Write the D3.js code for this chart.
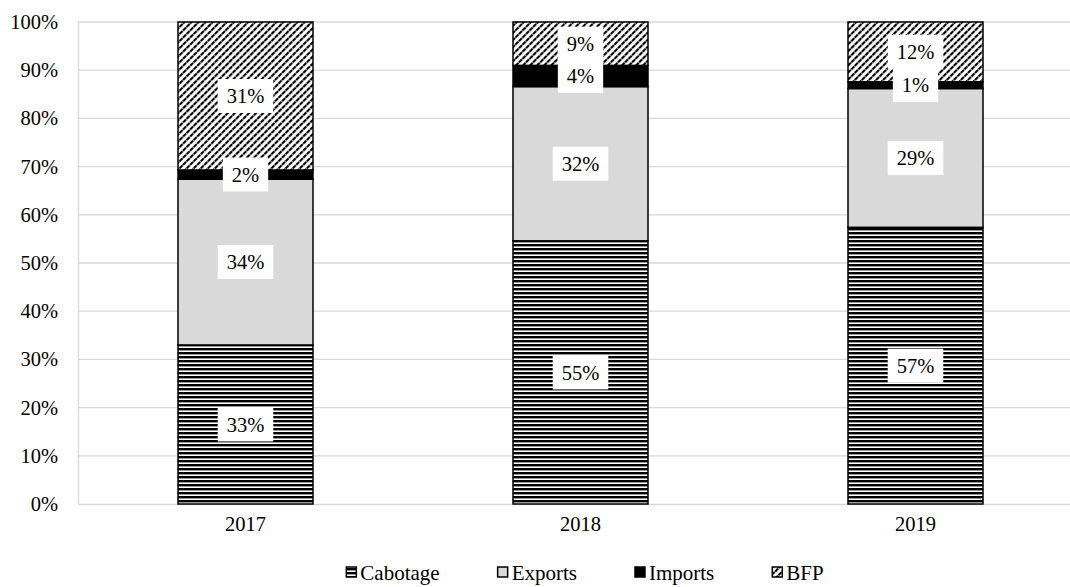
<!DOCTYPE html>
<html>
<head>
<meta charset="utf-8">
<script src="https://cdn.jsdelivr.net/npm/d3@7"></script>
<style>
  html, body { margin: 0; padding: 0; background: #fff; }
  svg { display: block; }
  text { font-family: "Liberation Serif", "Times New Roman", serif; fill: #000; }
</style>
</head>
<body>
<svg id="chart" width="1070" height="587"></svg>
<script>
// Share of traffic by type, per year (percent)
const years = ["2017", "2018", "2019"];
const seriesNames = ["Cabotage", "Exports", "Imports", "BFP"];
const cabotage = [33.0, 54.6, 57.4];
const exportsShare = [34.4, 32.0, 28.8];
const imports = [1.9, 4.4, 1.4];
const bfp = [30.7, 9.0, 12.4];
const yTicks = [0, 10, 20, 30, 40, 50, 60, 70, 80, 90, 100];

const rows = years.map((y, i) => ({
  year: y,
  Cabotage: cabotage[i],
  Exports: exportsShare[i],
  Imports: imports[i],
  BFP: bfp[i]
}));

const svg = d3.select("#chart");
const margin = { left: 78, right: 1083, top: 22, bottom: 504 };
const fontSize = "20.5px";

const x = d3.scaleBand().domain(years).range([margin.left, margin.right]).paddingInner(0.597).paddingOuter(0.2985);
const y = d3.scaleLinear().domain([0, 100]).range([margin.bottom, margin.top]);

// Fill patterns
const defs = svg.append("defs");
const pHoriz = defs.append("pattern").attr("id", "pat-cab").attr("patternUnits", "userSpaceOnUse")
  .attr("width", 8).attr("height", 4);
pHoriz.append("rect").attr("width", 8).attr("height", 4).attr("fill", "#fff");
pHoriz.append("rect").attr("y", 0).attr("width", 8).attr("height", 2.4).attr("fill", "#000");

const pDiag = defs.append("pattern").attr("id", "pat-bfp").attr("patternUnits", "userSpaceOnUse")
  .attr("width", 5).attr("height", 5).attr("patternTransform", "rotate(45)");
pDiag.append("rect").attr("width", 5).attr("height", 5).attr("fill", "#fff");
pDiag.append("rect").attr("x", 0).attr("width", 2.1).attr("height", 5).attr("fill", "#000");
pDiag.append("rect").attr("x", 0).attr("y", 2.4).attr("width", 5).attr("height", 0.6).attr("fill", "#fff");

const fills = {
  Cabotage: "url(#pat-cab)",
  Exports: "#d9d9d9",
  Imports: "#000",
  BFP: "url(#pat-bfp)"
};

// Gridlines
svg.append("g").selectAll("line").data(yTicks.filter(t => t > 0)).join("line")
  .attr("x1", margin.left).attr("x2", margin.right)
  .attr("y1", d => y(d)).attr("y2", d => y(d))
  .attr("stroke", "#d9d9d9").attr("stroke-width", 1.3);

// Y axis
const yAxis = svg.append("g").attr("transform", `translate(${margin.left},0)`)
  .call(d3.axisLeft(y).tickValues(yTicks).tickFormat(d => d + "%").tickSize(0).tickPadding(20));
yAxis.select(".domain").attr("stroke", "#d9d9d9").attr("stroke-width", 1.3);
yAxis.selectAll("text").style("font-size", fontSize).style("font-family", "'Liberation Serif', serif");

// X axis
const xAxis = svg.append("g").attr("transform", `translate(0,${margin.bottom})`)
  .call(d3.axisBottom(x).tickSize(0).tickPadding(12));
xAxis.select(".domain").attr("stroke", "#d9d9d9").attr("stroke-width", 1.3);
xAxis.selectAll("text").style("font-size", fontSize).style("font-family", "'Liberation Serif', serif");

// Stacked bars
const stack = d3.stack().keys(seriesNames)(rows);
const layers = svg.append("g").selectAll("g").data(stack).join("g")
  .attr("fill", d => fills[d.key]);
layers.selectAll("rect").data(d => d).join("rect")
  .attr("x", d => x(d.data.year))
  .attr("width", x.bandwidth())
  .attr("y", d => y(d[1]))
  .attr("height", d => y(d[0]) - y(d[1]))
  .attr("stroke", "#000").attr("stroke-width", 1.5);

// Value labels with white boxes
const labels = [];
stack.forEach(layer => layer.forEach(d => {
  labels.push({ cx: x(d.data.year) + x.bandwidth() / 2, cy: y((d[0] + d[1]) / 2), v: d[1] - d[0] });
}));
const lg = svg.append("g");
labels.forEach(l => {
  const g = lg.append("g");
  const t = g.append("text").attr("x", l.cx).attr("y", l.cy).attr("dy", "0.35em")
    .attr("text-anchor", "middle").style("font-size", fontSize)
    .text(Math.round(l.v) + "%");
  const w = t.node().getComputedTextLength();
  g.insert("rect", "text").attr("x", l.cx - w / 2 - 9).attr("y", l.cy - 17)
    .attr("width", w + 18).attr("height", 34).attr("fill", "#fff");
});

// Legend
const legend = svg.append("g");
const items = legend.selectAll("g").data(seriesNames).join("g");
items.append("rect").attr("width", 10).attr("height", 10).attr("y", -13)
  .attr("fill", d => fills[d]).attr("stroke", "#000").attr("stroke-width", 1.5);
items.append("text").attr("x", 14).attr("y", 0).style("font-size", "21px").text(d => d);
let pos = 0;
items.each(function() {
  const g = d3.select(this);
  g.attr("transform", `translate(${pos},0)`);
  pos += 14 + g.select("text").node().getComputedTextLength() + 58;
});
const totalW = pos - 58;
legend.attr("transform", `translate(${585 - totalW / 2},580)`);
</script>
</body>
</html>
